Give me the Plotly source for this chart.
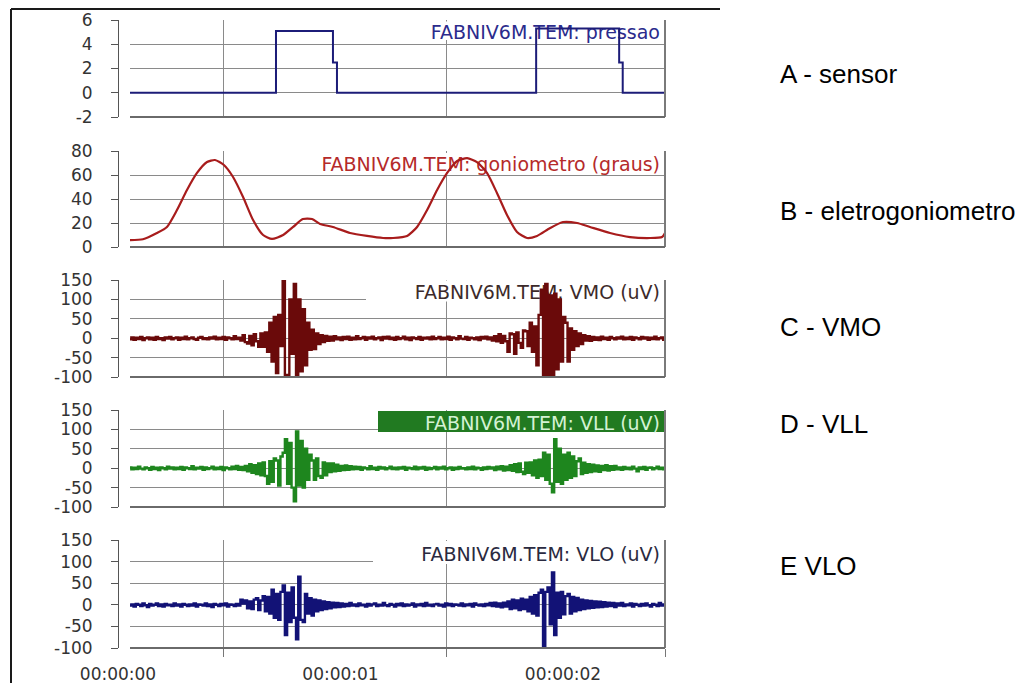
import numpy as np
import plotly.graph_objects as go

# ---------------------------------------------------------------- data
# sampling clock of the exported EMG channels (seconds)
T0 = 0.05
DT = 0.01

# A - pressure sensor (foot switch), step signal
pressao_t = [0.054, 0.710, 0.710, 0.966, 0.966, 0.984, 0.984,
             1.879, 1.879, 2.252, 2.252, 2.268, 2.268, 2.458]
pressao_v = [0, 0, 5.1, 5.1, 2.5, 2.5, 0,
             0, 5.3, 5.3, 2.5, 2.5, 0, 0]

# B - electrogoniometer (knee angle, degrees)
gonio_t = [0.054, 0.112, 0.175, 0.220, 0.265, 0.310, 0.355, 0.400, 0.436, 0.476,
           0.517, 0.562, 0.607, 0.652, 0.692, 0.742, 0.787, 0.831, 0.872, 0.908,
           0.966, 1.043, 1.119, 1.191, 1.236, 1.299, 1.344, 1.389, 1.434, 1.479,
           1.524, 1.569, 1.613, 1.658, 1.703, 1.748, 1.793, 1.838, 1.883, 1.942,
           2.000, 2.063, 2.121, 2.211, 2.301, 2.391, 2.445, 2.458]
gonio_deg = [5.8, 6.5, 11.7, 16.7, 30.8, 47.5, 61.7, 70.8, 72.5, 68.3,
             58.3, 41.7, 22.5, 10.0, 6.7, 10.0, 16.7, 23.3, 23.3, 19.2,
             16.7, 11.7, 9.2, 7.5, 7.5, 9.2, 16.7, 30.8, 47.5, 61.7,
             71.7, 74.0, 70.8, 61.7, 45.0, 26.7, 12.5, 7.5, 9.2, 15.8,
             20.8, 20.0, 16.7, 11.7, 8.3, 7.5, 8.3, 11.7]

# C - vasto medial obliquo (uV)
vmo_uv = [
    -3, 2, -4, 1, -2, 3, -5, 0, 2, -3,
    1, -4, 3, -2, 0, -5, 2, -1, 3, -3,
    0, 2, -4, 1, -2, 4, -3, 0, 2, -2,
    -4, 1, 3, -2, 0, -3, 2, -1, 4, -3,
    1, -2, 3, -4, 2, 0, -3, 5, -2, 1,
    -6, 8, -10, -14, 6, -18, 10, -8, -22, 12,
    -22, 15, -35, 40, -60, 55, -90, 60, -20, 150,
    -100, -95, 100, -40, 140, -100, 100, -85, 75, -70,
    40, -30, 22, -28, 12, -15, 8, -10, 6, -7,
    4, -6, 5, -3, 2, -5, 3, -2, 4, -4,
    1, -3, 5, -2, 0, 3, -4, 2, -1, 4,
    -3, 0, 2, -5, 3, -1, 4, -2, 1, -4,
    3, -2, 0, 4, -3, 1, -5, 2, 0, -2,
    3, -4, 1, -1, 2, -3, 4, -2, 0, 3,
    -3, 1, -2, 4, -4, 2, 0, -3, 5, -1,
    -2, 3, -4, 1, 0, -3, 2, -5, 3, -1,
    4, -3, 2, -6, 5, -8, 10, -12, 6, -8,
    -35, 12, 10, -40, 15, -12, -25, 20, 18, -20,
    40, -35, 30, -70, 60, 125, -100, 140, -95, 110,
    -100, 115, -80, 100, -60, 55, 40, -60, 25, -30,
    18, -20, 12, -15, 8, -6, 5, -7, 3, -4,
    2, -5, 4, -2, 1, -4, 3, 0, -3, 2,
    -1, 4, -3, 1, -2, 3, -4, 2, 0, -3,
    3, -1, 2, -4, 1, -2, 4, -3, 0, 2,
    -4, 1,
]

# D - vasto lateral longo (uV)
vll_uv = [
    2, -3, 1, -2, 4, -1, -3, 2, 0, -4,
    3, -2, 1, -5, 2, 0, -3, 4, -1, 2,
    -3, 1, -2, 3, -4, 2, 0, -2, 5, -3,
    1, -1, 3, -4, 2, -2, 0, 4, -3, 1,
    -2, 3, -5, 2, 0, -3, 4, -2, 6, -4,
    3, -5, 6, -8, 10, -12, 8, -15, 12, -18,
    15, -20, -40, 18, -35, 25, 20, -45, 30, 40,
    75, -40, 65, -50, -85, 95, -45, 70, -50, 50,
    -30, 35, 20, -30, 25, -20, -25, 15, -18, 12,
    -10, 12, -8, 9, -7, 6, -5, 7, -4, 5,
    -3, 4, -2, 3, -4, 2, 0, -3, 5, -2,
    1, -4, 3, -1, 2, -3, 0, 4, -2, 1,
    -3, 2, -1, 3, -4, 1, 0, -2, 4, -3,
    2, -1, 3, -4, 1, -2, 0, 3, -3, 2,
    -1, 4, -3, 0, 2, -4, 1, -2, 3, -1,
    0, -3, 2, -2, 4, -3, 1, 0, -4, 2,
    -2, 3, -1, 2, -5, 4, -3, 5, -6, 4,
    -5, 8, -7, 10, -10, 12, -9, -15, 14, -12,
    15, -18, 20, -25, 22, -20, 40, -30, 35, -40,
    -62, 75, -35, 50, -40, 35, -30, 40, -25, 30,
    -20, 18, 25, -15, 14, -12, 10, -10, 9, -8,
    7, -9, 6, -5, 8, -6, 5, -4, 6, -3,
    2, -4, 3, -2, 1, -3, 4, -1, -8, 2,
    -2, 3, -4, 1, 2, -3, 0, 4, -2, 1,
    -3, -8,
]

# E - vasto lateral obliquo (uV)
vlo_uv = [
    -2, 1, -4, 2, 0, -3, 3, -1, -5, 2,
    -2, 0, 3, -3, 1, -4, 2, -1, 0, -3,
    3, -2, 1, -4, 2, 0, -3, 1, -2, 3,
    -4, 1, 0, -2, 3, -3, 1, -5, 2, 0,
    -3, 2, -1, 3, -4, 1, 0, -3, 2, -2,
    12, 3, 10, -8, 8, -10, 12, 15, -12, 10,
    20, -15, 18, -20, 35, -30, 25, -35, 30, 45,
    -70, 28, -40, 40, -30, -80, 65, -35, -40, 25,
    -20, 15, -25, 12, -15, 10, -12, 8, -10, 6,
    -8, 5, -6, 4, -5, 3, -4, 2, -3, 4,
    -2, 1, -3, 3, -1, 0, -4, 2, -2, 1,
    3, -3, 0, -2, 4, -1, -3, 2, 0, -4,
    2, -1, 3, -3, 1, -2, 0, 3, -4, 1,
    -1, 2, -3, 4, -2, 0, -3, 1, 2, -2,
    0, -4, 3, -1, 2, -3, 1, 0, -2, 3,
    -3, 1, -1, 2, -4, 3, 0, -2, 1, -3,
    2, -1, 4, -3, 5, -4, 3, -6, 5, -4,
    8, -10, 12, -8, 10, -12, 14, -10, 12, -15,
    18, -20, 22, -25, 28, 35, -100, 30, 40, -45,
    75, -70, 28, -30, 30, -22, 20, 25, -20, 18,
    -15, 16, -12, 12, -10, 10, -8, 9, -7, 8,
    -6, 7, -5, 6, -4, 5, -3, 4, -5, 3,
    -2, 4, -3, 1, -1, 3, -4, 2, 0, -3,
    2, -2, 3, -1, -4, 2, 0, -3, 4, -2,
    1, 14,
]

panel_titles = ["FABNIV6M.TEM: pressao",
                "FABNIV6M.TEM: goniometro (graus)",
                "FABNIV6M.TEM: VMO (uV)",
                "FABNIV6M.TEM: VLL (uV)",
                "FABNIV6M.TEM: VLO (uV)"]
side_labels = ["A - sensor", "B - eletrogoniometro", "C - VMO", "D - VLL", "E VLO"]
pressao_ticks = [-2, 0, 2, 4, 6]
gonio_ticks = [0, 20, 40, 60, 80]
emg_ticks = [-100, -50, 0, 50, 100, 150]
time_ticks_s = [0, 1, 2]
time_ticks_text = ["00:00:00", "00:00:01", "00:00:02"]
x_grid_s = [0.476, 1.478, 2.458]

# ---------------------------------------------------------------- layout
W, H = 1033, 683
X_LEFT, X_RIGHT = 130, 665       # plot area, px
Y_AXIS_X = 118                   # detached y-axis line, px
X_RANGE = [0.054, 2.458]
TIME_X0, TIME_X2 = 118, 563      # px of 00:00:00 and 00:00:02
CHART_FONT = "DejaVu Sans"
GRID = "#8a8a8a"


def fx(px):
    return px / W


def fy(py):
    return 1 - py / H


def emg_t(vals):
    return T0 + DT * np.arange(len(vals))


def px_to_s(px):
    return X_RANGE[0] + (px - X_LEFT) / (X_RIGHT - X_LEFT) * (X_RANGE[1] - X_RANGE[0])


panels = [
    dict(x=pressao_t, y=pressao_v, color="#1c1c78", width=2.0, shape="linear",
         top=20, bottom=117, rng=[-2, 6], ticks=pressao_ticks,
         box=(400, 665, 21.5, 40), box_fill="white", title_color="#2b2b8c",
         label_y=74),
    dict(x=gonio_t, y=gonio_deg, color="#a81c1c", width=2.2, shape="spline",
         top=151, bottom=247, rng=[0, 80], ticks=gonio_ticks,
         box=(275, 665, 153, 172), box_fill="white", title_color="#b52a2a",
         label_y=211),
    dict(x=emg_t(vmo_uv), y=vmo_uv, color="#6a0a0a", width=2.4, shape="hv",
         top=280, bottom=377, rng=[-100, 150], ticks=emg_ticks,
         box=(366, 665, 280.5, 301.5), box_fill="white", title_color="#3c2a2a",
         label_y=327),
    dict(x=emg_t(vll_uv), y=vll_uv, color="#1e861e", width=2.4, shape="hv",
         top=410, bottom=507, rng=[-100, 150], ticks=emg_ticks,
         box=(378, 665, 411, 432), box_fill="#217a21", title_color="#d4f2d4",
         label_y=424),
    dict(x=emg_t(vlo_uv), y=vlo_uv, color="#121276", width=2.4, shape="hv",
         top=540, bottom=648, rng=[-100, 150], ticks=emg_ticks,
         box=(373, 665, 541, 564), box_fill="white", title_color="#2a2a40",
         label_y=566),
]

fig = go.Figure()
layout = dict(
    width=W, height=H, autosize=False,
    margin=dict(l=0, r=0, t=0, b=0, autoexpand=False),
    paper_bgcolor="white", plot_bgcolor="rgba(0,0,0,0)",
    showlegend=False,
)
shapes = []
annotations = []

for k, p in enumerate(panels, start=1):
    sfx = "" if k == 1 else str(k)
    line = dict(color=p["color"], width=p["width"], shape=p["shape"])
    if p["shape"] == "spline":
        line["smoothing"] = 0.6
    fig.add_trace(go.Scatter(
        x=p["x"], y=p["y"], mode="lines", line=line,
        xaxis="x" + sfx, yaxis="y" + sfx, hoverinfo="skip",
    ))
    last = k == len(panels)
    layout["xaxis" + sfx] = dict(
        domain=[fx(X_LEFT), fx(X_RIGHT)], range=X_RANGE, anchor="y" + sfx,
        tickvals=x_grid_s, showticklabels=False,
        ticks="outside" if last else "", ticklen=8, tickcolor="#777",
        showgrid=True, gridcolor=GRID, gridwidth=1,
        zeroline=False, showline=False, fixedrange=True, automargin=False,
    )
    layout["yaxis" + sfx] = dict(
        domain=[fy(p["bottom"]), fy(p["top"])], range=p["rng"],
        anchor="free", position=fx(Y_AXIS_X),
        tickvals=p["ticks"], ticktext=[str(v) for v in p["ticks"]],
        ticks="outside", ticklen=7, tickcolor="#555",
        showline=True, linecolor="#555", linewidth=1,
        showgrid=True, gridcolor=GRID, gridwidth=1, zeroline=False,
        tickfont=dict(family=CHART_FONT, size=17, color="#333"),
        ticklabelstandoff=15, fixedrange=True, automargin=False,
    )

    xr, yr = "x" + sfx, "y" + sfx
    lo, hi = p["rng"]
    h = p["bottom"] - p["top"]

    def py_to_v(py):
        return lo + (p["bottom"] - py) / h * (hi - lo)

    bx0, bx1, by0, by1 = p["box"]
    # caption box sits between the grid and the trace
    shapes.append(dict(
        type="rect", xref=xr, yref=yr, layer="between",
        x0=px_to_s(bx0), x1=X_RANGE[1],
        y0=py_to_v(by1), y1=py_to_v(by0),
        fillcolor=p["box_fill"], line=dict(width=0),
        label=dict(text=panel_titles[k - 1], textposition="middle right",
                   padding=2,
                   font=dict(family=CHART_FONT, size=19, color=p["title_color"])),
    ))
    # frame: right edge and bottom edge of each plot box
    shapes.append(dict(type="line", xref=xr + " domain", yref=yr + " domain",
                       layer="above", x0=1, x1=1, y0=0, y1=1,
                       line=dict(color="#7a7a7a", width=2)))
    shapes.append(dict(type="line", xref=xr + " domain", yref=yr + " domain",
                       layer="above", x0=0, x1=1, y0=0, y1=0,
                       line=dict(color="#6a6a6a", width=2)))

    annotations.append(dict(
        text=side_labels[k - 1], xref="paper", yref="paper",
        x=fx(778), y=fy(p["label_y"]), xanchor="left", yanchor="middle",
        showarrow=False,
        font=dict(family="Liberation Sans", size=26, color="black"),
    ))

# time labels under the bottom panel
fig.add_trace(go.Scatter(x=[], y=[], xaxis="x6", yaxis="y6", hoverinfo="skip"))
layout["xaxis6"] = dict(
    domain=[fx(TIME_X0), fx(TIME_X2)], range=[time_ticks_s[0], time_ticks_s[-1]],
    anchor="free", position=fy(648), side="bottom",
    tickvals=time_ticks_s, ticktext=time_ticks_text,
    ticks="", showgrid=False, zeroline=False, showline=False,
    tickfont=dict(family=CHART_FONT, size=17, color="#333"),
    ticklabelstandoff=14, fixedrange=True, automargin=False,
)
layout["yaxis6"] = dict(domain=[fy(648), fy(640)], anchor="x6",
                        showgrid=False, zeroline=False, showline=False,
                        showticklabels=False, ticks="",
                        range=[0, 1], fixedrange=True, automargin=False)

# outer frame of the figure
shapes.append(dict(type="line", xref="paper", yref="paper",
                   x0=fx(11), x1=fx(11), y0=0, y1=fy(9),
                   line=dict(color="#1a1a1a", width=2)))
shapes.append(dict(type="line", xref="paper", yref="paper",
                   x0=fx(11), x1=fx(720), y0=fy(9), y1=fy(9),
                   line=dict(color="#1a1a1a", width=2)))

layout["shapes"] = shapes
layout["annotations"] = annotations
fig.update_layout(**layout)

fig.write_html("out.html", config={"displayModeBar": False})
